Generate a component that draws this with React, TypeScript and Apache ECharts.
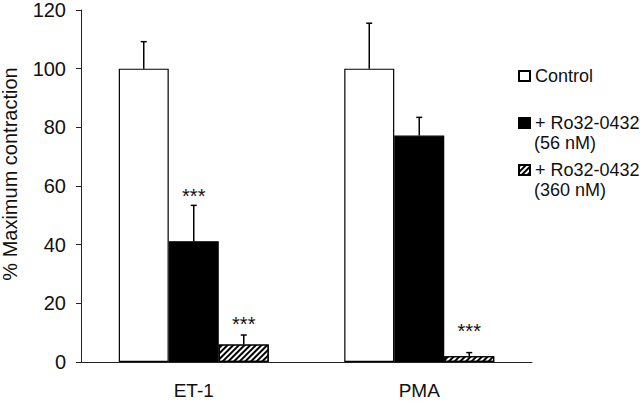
import React, { useEffect, useRef } from "react";
import * as echarts from "echarts";

const categories = ["ET-1", "PMA"];
const seriesNames = ["Control", "+ Ro32-0432 (56 nM)", "+ Ro32-0432 (360 nM)"];
const controlMean = [100, 100];
const controlErr = [9.2, 15.5];
const ro56Mean = [41.2, 77.2];
const ro56Err = [12.2, 6.2];
const ro360Mean = [6.0, 2.0];
const ro360Err = [3.2, 1.2];
// y-value where the significance stars sit (null = none)
const ro56Star: (number | null)[] = [56.5, null];
const ro360Star: (number | null)[] = [12.8, 10.6];
const yTicks = [0, 20, 40, 60, 80, 100, 120];

const BAR_WIDTH = 50;
const FONT = "Liberation Sans";

export default function App() {
  const ref = useRef<HTMLDivElement>(null);
  useEffect(() => {
    if (!ref.current) return;
    const chart = echarts.init(ref.current, null, { renderer: "svg" });
    const means = [controlMean, ro56Mean, ro360Mean];
    const errs = [controlErr, ro56Err, ro360Err];
    const stars = [[null, null], ro56Star, ro360Star];
    const errData: number[][] = [];
    means.forEach((m, s) =>
      m.forEach((v, c) => errData.push([c, v, errs[s][c], s, stars[s][c] ?? -1]))
    );
    const hatch = {
      symbol: "rect",
      symbolSize: 1,
      dashArrayX: [[1, 0]],
      dashArrayY: [2, 2],
      rotation: -Math.PI / 4,
      color: "#000",
    };
    const styles = [
      { color: "#fff", borderColor: "#000", borderWidth: 1.2 },
      { color: "#000", borderColor: "#000", borderWidth: 1.2 },
      { color: "#fff", borderColor: "#000", borderWidth: 1.2, decal: hatch },
    ];
    chart.setOption({
      animation: false,
      backgroundColor: "#fff",
      textStyle: { fontFamily: FONT },
      grid: { left: 81, right: 108, top: 10, bottom: 39, containLabel: false, outerBoundsMode: "none" },
      legend: {
        orient: "vertical",
        left: 518,
        top: 67,
        padding: 0,
        itemWidth: 11,
        itemHeight: 10,
        itemGap: 29,
        icon: "rect",
        data: seriesNames,
        formatter: (n: string) => n.replace(/ \(.*\)$/, ""),
        textStyle: { fontFamily: FONT, fontSize: 18, color: "#111" },
        selectedMode: false,
      },
      graphic: [
        {
          type: "text",
          x: 534,
          y: 143,
          style: { text: "(56 nM)", font: `18px ${FONT}`, fill: "#111", verticalAlign: "middle" },
        },
        {
          type: "text",
          x: 534,
          y: 190,
          style: { text: "(360 nM)", font: `18px ${FONT}`, fill: "#111", verticalAlign: "middle" },
        },
      ],
      xAxis: {
        type: "category",
        data: categories,
        axisLine: { lineStyle: { color: "#222", width: 1 } },
        axisTick: { length: 5, lineStyle: { color: "#222" } },
        axisLabel: { fontSize: 19, color: "#111", margin: 19, fontFamily: FONT },
      },
      yAxis: {
        type: "value",
        min: 0,
        max: 120,
        interval: 20,
        name: "% Maximum contraction",
        nameLocation: "middle",
        nameRotate: 90,
        nameGap: 61,
        nameTextStyle: { fontSize: 20, color: "#111", fontFamily: FONT, padding: [0, 0, 0, 24] },
        axisLine: { show: true, lineStyle: { color: "#222", width: 1 } },
        axisTick: { show: true, length: 5, lineStyle: { color: "#222" } },
        axisLabel: {
          fontSize: 20,
          color: "#111",
          margin: 15,
          fontFamily: FONT,
          formatter: (v: number) => (yTicks.includes(v) ? String(v) : ""),
        },
        splitLine: { show: false },
      },
      series: [
        ...seriesNames.map((name, i) => ({
          name,
          type: "bar",
          barWidth: BAR_WIDTH,
          barGap: "0%",
          data: means[i],
          itemStyle: styles[i],
        })),
        {
          type: "custom",
          silent: true,
          z: 5,
          data: errData,
          renderItem: (params: any, api: any) => {
            const c = api.value(0);
            const m = api.value(1);
            const e = api.value(2);
            const s = api.value(3);
            const st = api.value(4);
            const off = (s - 1) * BAR_WIDTH;
            const base = api.coord([c, m]);
            const top = api.coord([c, m + e]);
            const x = base[0] + off;
            const children: any[] = [
              {
                type: "line",
                shape: { x1: x, y1: base[1], x2: x, y2: top[1] },
                style: { stroke: "#000", lineWidth: 1.5 },
              },
              {
                type: "line",
                shape: { x1: x - 3, y1: top[1], x2: x + 3, y2: top[1] },
                style: { stroke: "#000", lineWidth: 1.5 },
              },
            ];
            if (st >= 0) {
              const p = api.coord([c, st]);
              children.push({
                type: "text",
                x: x,
                y: p[1],
                style: {
                  text: "***",
                  font: `20px ${FONT}`,
                  fill: "#111",
                  align: "center",
                  verticalAlign: "middle",
                },
              });
            }
            return { type: "group", children };
          },
        },
      ],
    });
    return () => chart.dispose();
  }, []);
  return <div ref={ref} style={{ width: 640, height: 401, position: "absolute", left: 0, top: 0 }} />;
}
